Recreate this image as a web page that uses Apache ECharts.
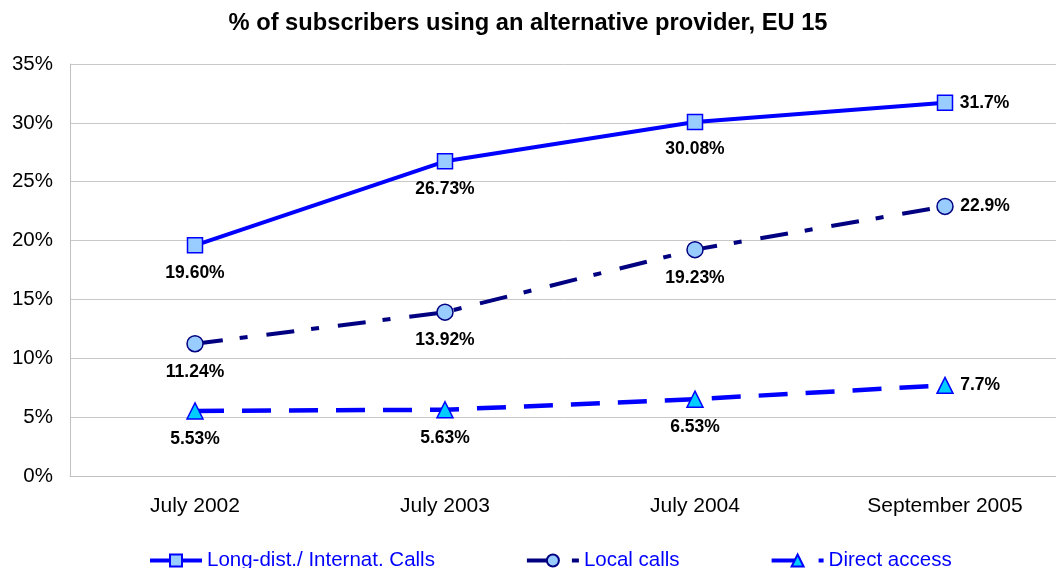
<!DOCTYPE html>
<html>
<head>
<meta charset="utf-8">
<script src="https://cdn.jsdelivr.net/npm/echarts@6/dist/echarts.min.js"></script>
<style>
html,body{margin:0;padding:0;background:#fff;}
#c{width:1056px;height:568px;}
</style>
</head>
<body>
<div id="c"></div>
<script>
const categories = ['July 2002', 'July 2003', 'July 2004', 'September 2005'];
const seriesNames = ['Long-dist./ Internat. Calls', 'Local calls', 'Direct access'];
const longDist = [19.60, 26.73, 30.08, 31.7];
const localCalls = [11.24, 13.92, 19.23, 22.9];
const directAccess = [5.53, 5.63, 6.53, 7.7];
const longDistLabels = ['19.60%', '26.73%', '30.08%', '31.7%'];
const localLabels = ['11.24%', '13.92%', '19.23%', '22.9%'];
const directLabels = ['5.53%', '5.63%', '6.53%', '7.7%'];
const yTicks = [0, 5, 10, 15, 20, 25, 30, 35];

const FONT = '"Liberation Sans", Arial, sans-serif';

function buildData(values, labels) {
  return values.map((v, i) => ({
    value: v,
    label: {
      formatter: labels[i],
      position: i === values.length - 1 ? 'right' : 'bottom',
      distance: i === values.length - 1 ? 6.5 : 10.5
    }
  }));
}

const labelStyle = {
  show: true,
  fontFamily: FONT,
  fontSize: 17.5,
  fontWeight: 'bold',
  color: '#000'
};

const chart = echarts.init(document.getElementById('c'), null, {renderer: 'canvas'});
chart.setOption({
  animation: false,
  backgroundColor: '#fff',
  title: {
    text: '% of subscribers using an alternative provider, EU 15',
    left: 'center',
    top: 6,
    textStyle: {fontFamily: FONT, fontSize: 23.7, fontWeight: 'bold', color: '#000'}
  },
  legend: {
    left: 148,
    top: 550,
    padding: 0,
    itemGap: 90,
    itemWidth: 52,
    itemHeight: 15,
    data: seriesNames,
    lineStyle: {width: 4},
    textStyle: {fontFamily: FONT, fontSize: 20.5, color: '#0000FF'}
  },
  grid: {left: 70, top: 64, width: 1000, height: 412, containLabel: false, outerBoundsMode: 'none'},
  xAxis: {
    type: 'category',
    data: categories,
    boundaryGap: true,
    axisLine: {show: true, lineStyle: {color: '#c0c0c0', width: 1}},
    axisTick: {show: false},
    axisLabel: {fontFamily: FONT, fontSize: 21, color: '#000', margin: 20}
  },
  yAxis: {
    type: 'value',
    min: yTicks[0],
    max: yTicks[yTicks.length - 1],
    interval: 5,
    axisLine: {show: true, lineStyle: {color: '#c0c0c0', width: 1}},
    axisTick: {show: false},
    axisLabel: {fontFamily: FONT, fontSize: 20.5, color: '#000', margin: 17, formatter: '{value}%'},
    splitLine: {show: true, lineStyle: {color: '#c8c8c8', width: 1}}
  },
  series: [
    {
      name: seriesNames[0],
      type: 'line',
      data: buildData(longDist, longDistLabels),
      symbol: 'rect',
      symbolSize: 15,
      lineStyle: {color: '#0000FF', width: 4, type: 'solid'},
      itemStyle: {color: '#99CCFF', borderColor: '#0000FF', borderWidth: 1.5},
      label: labelStyle,
      z: 3
    },
    {
      name: seriesNames[1],
      type: 'line',
      data: buildData(localCalls, localLabels),
      symbol: 'circle',
      symbolSize: 16,
      lineStyle: {color: '#000080', width: 4, type: [28, 17, 8, 19]},
      itemStyle: {color: '#99CCFF', borderColor: '#000080', borderWidth: 1.5},
      label: labelStyle,
      z: 2
    },
    {
      name: seriesNames[2],
      type: 'line',
      data: buildData(directAccess, directLabels),
      symbol: 'triangle',
      symbolSize: 16,
      lineStyle: {color: '#0000FF', width: 4.5, type: [29, 18]},
      itemStyle: {color: '#00CCFF', borderColor: '#0000FF', borderWidth: 1.5},
      label: labelStyle,
      z: 1
    }
  ]
});
</script>
</body>
</html>
